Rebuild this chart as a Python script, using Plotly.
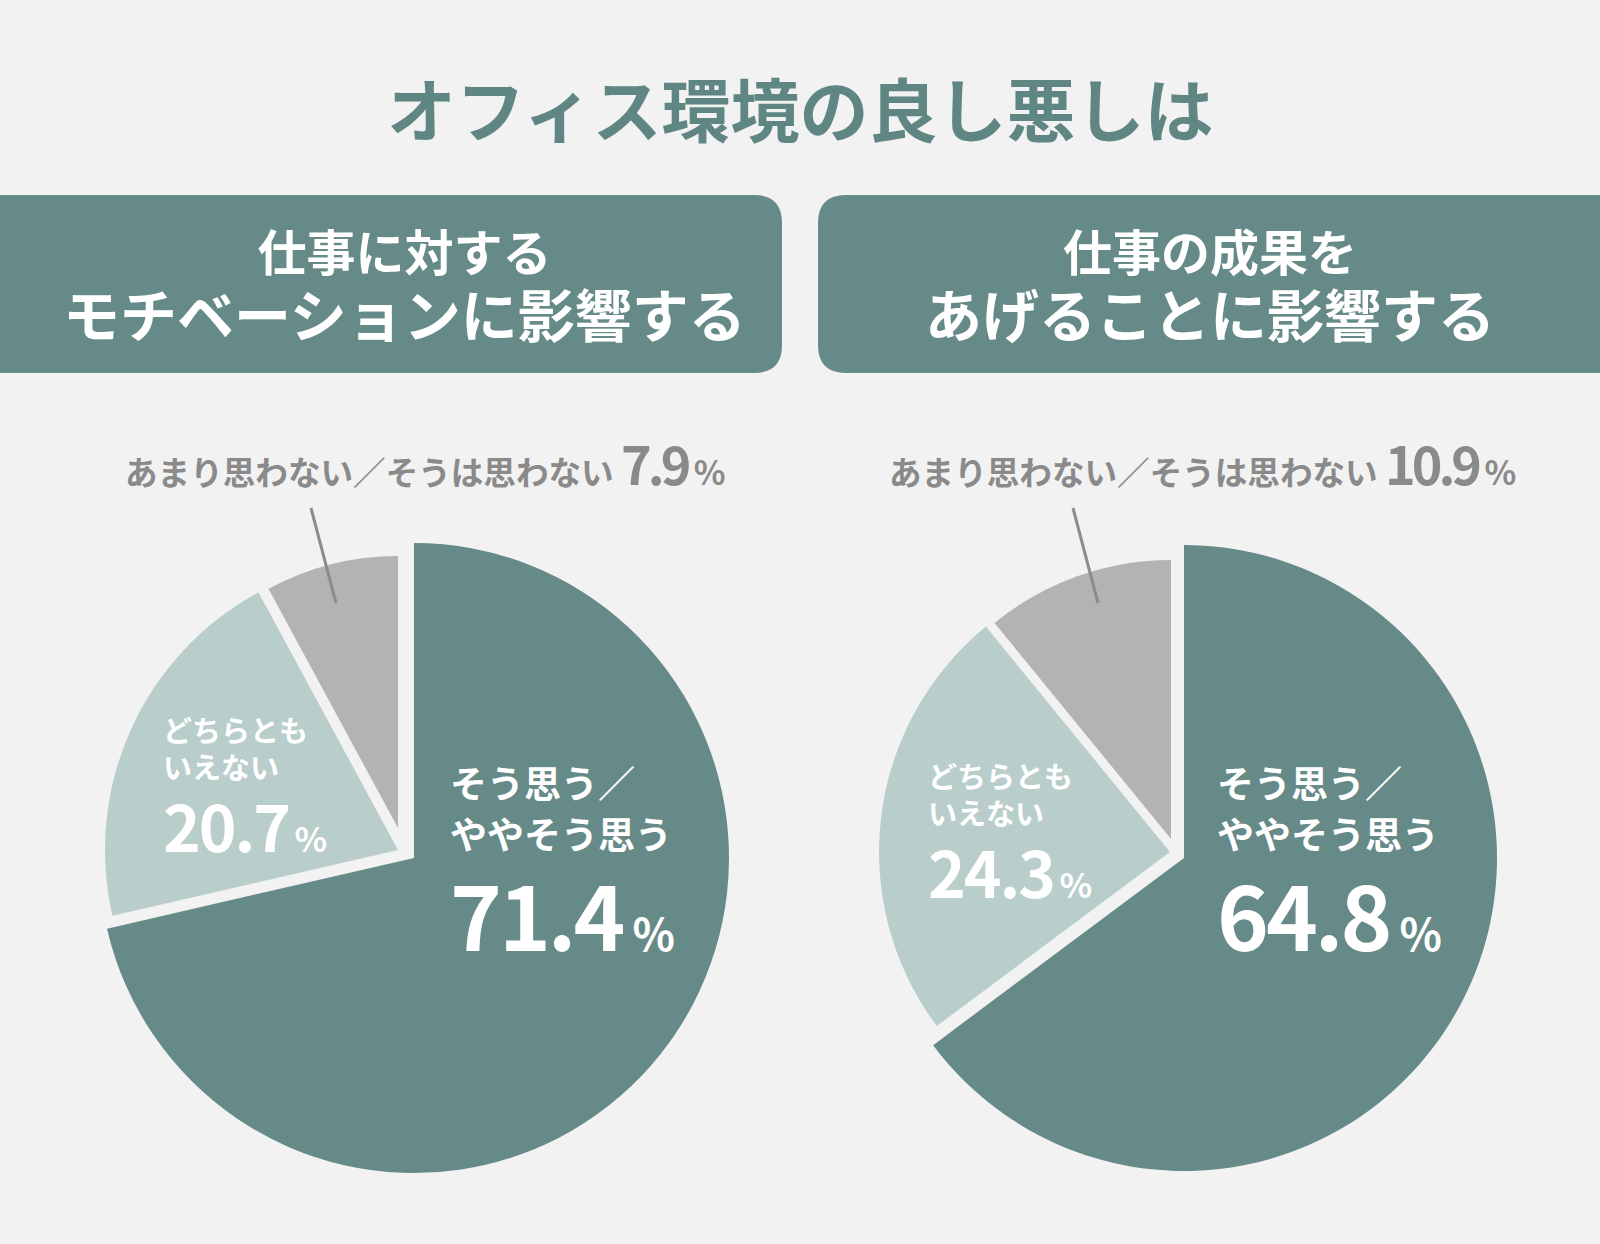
import plotly.graph_objects as go

W, H = 1600, 1244

# survey answers (%)
categories = ["そう思う／ややそう思う", "どちらともいえない", "あまり思わない／そうは思わない"]
motivation = [71.4, 20.7, 7.9]   # 仕事に対するモチベーションに影響する
results = [64.8, 24.3, 10.9]     # 仕事の成果をあげることに影響する
panel_titles = [["仕事に対する", "モチベーションに影響する"],
                ["仕事の成果を", "あげることに影響する"]]
main_title = "オフィス環境の良し悪しは"
inner_labels = [["そう思う／", "ややそう思う"], ["どちらとも", "いえない"]]

BG = "#f2f2f2"
TEAL = "#658a87"
slice_colors = [TEAL, "#b9cecb", "#b3b3b3"]
GRAY_TXT = "#8a8a8a"
FONT = "Noto Sans CJK JP"


def fx(x):
    return x / W


def fy(y):
    return 1 - y / H


# every slice is its own pie so it can have its own apex / radius (exploded look)
# (cx, cy, r) in px, per slice
slice_geom = [
    [(414, 858, 315), (398, 850, 293), (398, 828, 272)],
    [(1184, 858, 313), (1170, 852, 291), (1171, 839, 279)],
]

fig = go.Figure()

for vals, geom in zip([motivation, results], slice_geom):
    for k, (cx, cy, r) in enumerate(geom):
        cols = [slice_colors[i] if i == k else "rgba(0,0,0,0)" for i in range(len(vals))]
        fig.add_trace(go.Pie(
            labels=categories, values=vals, sort=False, direction="clockwise",
            rotation=0, textinfo="none", hoverinfo="label+percent",
            marker=dict(colors=cols, line=dict(width=0)),
            domain=dict(x=[fx(cx - r), fx(cx + r)], y=[fy(cy + r), fy(cy - r)]),
            showlegend=False,
        ))

annotations = []
shapes = []


def add_text(text, x, y, size, color="white", xanchor="left", yanchor="middle", align="left"):
    annotations.append(dict(
        text=text, x=fx(x), y=fy(y), xref="paper", yref="paper",
        xanchor=xanchor, yanchor=yanchor, showarrow=False, align=align,
        font=dict(family=FONT, size=size, color=color, weight=700),
    ))


def sized(s, size):
    return "<span style='font-size:%gpx'>%s</span>" % (size, s)


def pct(v, big, small, track, gap):
    # number in big type, then a narrow gap and a small %
    return ("<span style='font-size:%dpx;letter-spacing:%dpx'>%.1f</span>"
            "<span style='font-size:%dpx'>\u00a0</span>"
            "<span style='font-size:%dpx'>%%</span>") % (big, track, v, gap, small)


def block(lines, size, number):
    # label lines, a blank line, then the value
    return "<br>".join([sized(t, size) for t in lines] + ["\u00a0", number])


# main title
add_text(main_title, 800, 107, 69, color="#5f8683", xanchor="center")

# header boxes (rounded on the inner side)
rr = 28
def box_path(x0, x1, y0, y1, round_right):
    if round_right:
        pts = (f"M {fx(x0)},{fy(y0)} L {fx(x1 - rr)},{fy(y0)} "
               f"Q {fx(x1)},{fy(y0)} {fx(x1)},{fy(y0 + rr)} "
               f"L {fx(x1)},{fy(y1 - rr)} Q {fx(x1)},{fy(y1)} {fx(x1 - rr)},{fy(y1)} "
               f"L {fx(x0)},{fy(y1)} Z")
    else:
        pts = (f"M {fx(x1)},{fy(y0)} L {fx(x0 + rr)},{fy(y0)} "
               f"Q {fx(x0)},{fy(y0)} {fx(x0)},{fy(y0 + rr)} "
               f"L {fx(x0)},{fy(y1 - rr)} Q {fx(x0)},{fy(y1)} {fx(x0 + rr)},{fy(y1)} "
               f"L {fx(x1)},{fy(y1)} Z")
    return pts


shapes.append(dict(type="path", xref="paper", yref="paper", layer="below",
                   path=box_path(-5, 782, 195, 373, True), fillcolor=TEAL, line=dict(width=0)))
shapes.append(dict(type="path", xref="paper", yref="paper", layer="below",
                   path=box_path(818, 1605, 195, 373, False), fillcolor=TEAL, line=dict(width=0)))

for (l1, l2), xc in zip(panel_titles, [404, 1210]):
    add_text(sized(l1, 49) + "<br>" + sized(l2, 57), xc, 284, 50.8,
             xanchor="center", align="center")

# labels: left chart then right chart
outer_pos = [(123, 502), (887, 502)]
big_pos = [(448, 978), (1215, 978)]
mid_pos = [(161, 872), (926, 918)]
lines = [((311, 508), (336, 603)), ((1073, 508), (1098, 603))]

for i, vals in enumerate([motivation, results]):
    add_text(block(inner_labels[0], 37, pct(vals[0], 88, 44, -3, 45)),
             *big_pos[i], 39.2, yanchor="bottom")
    add_text(block(inner_labels[1], 29, pct(vals[1], 64, 34, -2, 24)),
             *mid_pos[i], 28.2, yanchor="bottom")
    add_text(categories[2] + " " + pct(vals[2], 52, 33, -4, 28), *outer_pos[i], 32.6,
             color=GRAY_TXT, yanchor="bottom")
    (x0, y0), (x1, y1) = lines[i]
    shapes.append(dict(type="line", xref="paper", yref="paper",
                       x0=fx(x0), y0=fy(y0), x1=fx(x1), y1=fy(y1),
                       line=dict(color="#8c8c8c", width=3)))

fig.update_layout(
    width=W, height=H,
    margin=dict(l=0, r=0, t=0, b=0),
    paper_bgcolor=BG, plot_bgcolor=BG,
    annotations=annotations, shapes=shapes,
    showlegend=False,
)

fig.write_html("out.html", config={"displayModeBar": False},
               post_script="document.body.style.margin='0';")
